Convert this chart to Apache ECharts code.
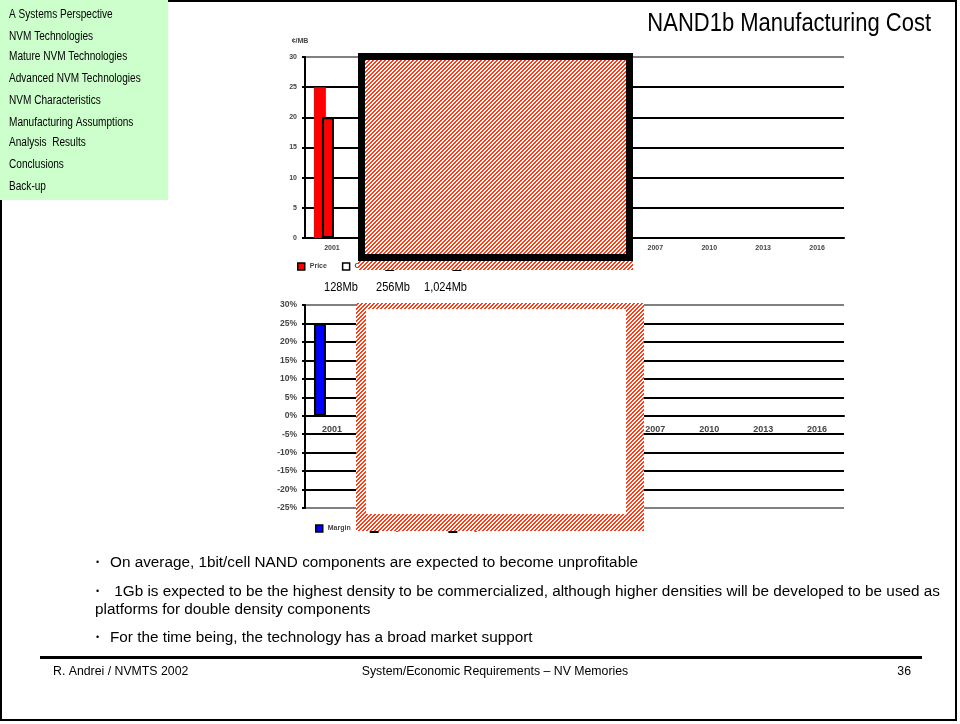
<!DOCTYPE html>
<html>
<head>
<meta charset="utf-8">
<script src="https://cdn.jsdelivr.net/npm/echarts@6/dist/echarts.min.js"></script>
<style>
  html, body { margin: 0; padding: 0; background: #fff; }
  #slide { width: 960px; height: 724px; }
</style>
</head>
<body>
<div id="slide"></div>
<script>
// ---- chart data ----
const years = ['2001', '2002', '2003', '2004', '2005', '2006', '2007', '2010', '2013', '2016'];
// cents per MB
const price = [25, null, null, null, null, null, null, null, null, null];
const cost = [20, null, null, null, null, null, null, null, null, null];
const cost256 = [null, null, null, null, null, null, null, null, null, null];
const cost1024 = [null, null, null, null, null, null, null, null, null, null];
// margin on cost, percent
const margin = [25, null, null, null, null, null, null, null, null, null];
const margin256 = [null, null, null, null, null, null, null, null, null, null];
const margin1024 = [null, null, null, null, null, null, null, null, null, null];
const costTicks = [0, 5, 10, 15, 20, 25, 30];
const marginTicks = [-25, -20, -15, -10, -5, 0, 5, 10, 15, 20, 25, 30];
const densities = ['128Mb', '256Mb', '1,024Mb'];

// ---- slide text ----
const navItems = ['A Systems Perspective', 'NVM Technologies', 'Mature NVM Technologies',
  'Advanced NVM Technologies', 'NVM Characteristics', 'Manufacturing Assumptions',
  'Analysis  Results', 'Conclusions', 'Back-up'];
const title = 'NAND1b Manufacturing Cost';
const bullets = [
  'On average, 1bit/cell NAND components are expected to become unprofitable',
  ' 1Gb is expected to be the highest density to be commercialized, although higher densities will be developed to be used as',
  'For the time being, the technology has a broad market support'
];
const bulletWrap = 'platforms for double density components';
const footer = ['R. Andrei / NVMTS 2002', 'System/Economic Requirements \u2013 NV Memories', '36'];

const SANS = "'Liberation Sans',Arial,sans-serif";

// diagonal red/white hatch tile
function hatchTile() {
  const n = 4;
  const c = document.createElement('canvas');
  c.width = n; c.height = n;
  const g = c.getContext('2d');
  const img = g.createImageData(n, n);
  for (let y = 0; y < n; y++) {
    for (let x = 0; x < n; x++) {
      const i = (y * n + x) * 4;
      const red = ((x + y) % n) < 2;
      img.data[i] = 255;
      img.data[i + 1] = red ? 60 : 255;
      img.data[i + 2] = red ? 20 : 255;
      img.data[i + 3] = 255;
    }
  }
  g.putImageData(img, 0, 0);
  return c;
}
const hatch = { image: hatchTile(), repeat: 'repeat' };

// text element; sx condenses the glyphs horizontally around the anchor
function txt(x, y, text, size, opts) {
  opts = opts || {};
  return {
    type: 'text', x: x, y: y, z: 120, scaleX: opts.sx || 1,
    style: {
      text: text, fontSize: size, fontFamily: SANS,
      fill: opts.color || '#000',
      align: opts.align || 'left', textAlign: opts.align || 'left',
      verticalAlign: 'middle', textVerticalAlign: 'middle'
    }
  };
}

const graphics = [];
// slide frame
graphics.push({ type: 'rect', z: 90, shape: { x: 1, y: 1, width: 955, height: 719 },
  style: { fill: 'none', stroke: '#000', lineWidth: 2 } });
// navigation panel
graphics.push({ type: 'rect', z: 95, shape: { x: 0, y: 0, width: 168, height: 200 },
  style: { fill: '#ccffcc' } });
const navY = [15, 37, 57, 79, 101, 123, 143, 165, 187];
navItems.forEach((t, i) => graphics.push(txt(9, navY[i], t, 12, { sx: 0.84 })));
// title
graphics.push(txt(931, 24, title, 25, { align: 'right', sx: 0.88 }));
// density captions
const densX = [324, 376, 424];
densities.forEach((t, i) => graphics.push(txt(densX[i], 287, t, 13, { sx: 0.85 })));
// covering panels over the charts
graphics.push({ type: 'rect', z: 100, shape: { x: 358, y: 53, width: 275, height: 217 },
  style: { fill: hatch } });
graphics.push({ type: 'rect', z: 101, shape: { x: 361.5, y: 56.5, width: 268, height: 201 },
  style: { fill: 'none', stroke: '#000', lineWidth: 7 } });
graphics.push({ type: 'rect', z: 100, shape: { x: 356, y: 303, width: 288, height: 228 },
  style: { fill: hatch } });
graphics.push({ type: 'rect', z: 101, shape: { x: 366, y: 309, width: 260, height: 205 },
  style: { fill: '#fff' } });
// bullet points
const bulletY = [563, 592, 638];
bullets.forEach((t, i) => {
  graphics.push(txt(96, bulletY[i], '\u2022', 9));
  graphics.push(txt(110, bulletY[i], t, 15.3));
});
graphics.push(txt(95, 610, bulletWrap, 15.3));
// footer
graphics.push({ type: 'rect', z: 110, shape: { x: 40, y: 656, width: 882, height: 3 },
  style: { fill: '#000' } });
graphics.push(txt(53, 672, footer[0], 12.3));
graphics.push(txt(495, 672, footer[1], 12.3, { align: 'center' }));
graphics.push(txt(911, 672, footer[2], 12.3, { align: 'right' }));

const tickFont = { color: '#444', fontWeight: 'bold', fontFamily: SANS };

// zero line of the margin chart, measured up from the grid bottom
const marginGridH = 508 - 305;
const zeroLift = marginGridH * (0 - marginTicks[0]) / (marginTicks[marginTicks.length - 1] - marginTicks[0]);

const option = {
  animation: false,
  backgroundColor: '#fff',
  graphic: { elements: graphics },
  legend: [
    {
      left: 297, top: 262, padding: 0, icon: 'rect', itemWidth: 7, itemHeight: 7, itemGap: 15,
      textStyle: Object.assign({ fontSize: 7 }, tickFont),
      data: [
        { name: 'Price', itemStyle: { color: '#ff0000', borderColor: '#000', borderWidth: 1.5 } },
        { name: 'Cost', itemStyle: { color: '#fff', borderColor: '#000', borderWidth: 1.5 } },
        { name: 'Cost 256Mb' }, { name: 'Cost 1,024Mb' }
      ]
    },
    {
      left: 315, top: 524, padding: 0, icon: 'rect', itemWidth: 7, itemHeight: 7, itemGap: 19,
      textStyle: Object.assign({ fontSize: 7 }, tickFont),
      data: [
        { name: 'Margin', itemStyle: { color: '#0000ff', borderColor: '#000', borderWidth: 1.5 } },
        { name: 'Margin 256Mb' }, { name: 'Margin 1,024Mb' }
      ]
    }
  ],
  grid: [
    { left: 305, right: 116, top: 57, bottom: 486 },
    { left: 305, right: 116, top: 305, bottom: 216 }
  ],
  xAxis: [
    {
      type: 'category', gridIndex: 0, data: years,
      axisLine: { lineStyle: { color: '#000', width: 2 } },
      axisTick: { length: 3, lineStyle: { color: '#000', width: 2 } },
      axisLabel: Object.assign({ fontSize: 7, margin: 7, interval: 0 }, tickFont)
    },
    {
      type: 'category', gridIndex: 1, data: years, position: 'bottom', offset: -zeroLift,
      axisLine: { onZero: false, lineStyle: { color: '#000', width: 2 } },
      axisTick: { length: 3, lineStyle: { color: '#000', width: 2 } },
      axisLabel: Object.assign({ fontSize: 9, margin: 9, interval: 0 }, tickFont)
    }
  ],
  yAxis: [
    {
      type: 'value', gridIndex: 0, min: costTicks[0], max: costTicks[costTicks.length - 1], interval: 5,
      name: '\u00a2/MB', nameLocation: 'end', nameGap: 12,
      nameTextStyle: Object.assign({ fontSize: 7, padding: [0, 10, 0, 0] }, tickFont),
      axisLine: { show: true, lineStyle: { color: '#000', width: 2 } },
      axisTick: { show: true, length: 3, lineStyle: { color: '#000', width: 2 } },
      axisLabel: Object.assign({ fontSize: 7, margin: 8 }, tickFont),
      splitLine: { lineStyle: { width: 2, color: ['#000', '#000', '#000', '#000', '#000', '#000', '#808080'] } }
    },
    {
      type: 'value', gridIndex: 1, min: marginTicks[0], max: marginTicks[marginTicks.length - 1], interval: 5,
      axisLine: { show: true, lineStyle: { color: '#000', width: 2 } },
      axisTick: { show: true, length: 3, lineStyle: { color: '#000', width: 2 } },
      axisLabel: Object.assign({ fontSize: 8.5, margin: 8, formatter: '{value}%' }, tickFont),
      splitLine: { lineStyle: { width: 2, color: ['#808080', '#000', '#000', '#000', '#000', '#000',
        '#000', '#000', '#000', '#000', '#000', '#808080'] } }
    }
  ],
  series: [
    { name: 'Price', type: 'bar', xAxisIndex: 0, yAxisIndex: 0, data: price,
      barWidth: 12, barGap: '-33%', itemStyle: { color: '#ff0000' } },
    { name: 'Cost', type: 'bar', xAxisIndex: 0, yAxisIndex: 0, data: cost,
      barWidth: 12, barGap: '-33%', itemStyle: { color: '#ff0000', borderColor: '#000', borderWidth: 2 } },
    { name: 'Cost 256Mb', type: 'bar', xAxisIndex: 0, yAxisIndex: 0, data: cost256,
      barWidth: 12, barGap: '-33%', itemStyle: { color: '#fff', borderColor: '#000', borderWidth: 2 } },
    { name: 'Cost 1,024Mb', type: 'bar', xAxisIndex: 0, yAxisIndex: 0, data: cost1024,
      barWidth: 12, barGap: '-33%', itemStyle: { color: '#fff', borderColor: '#000', borderWidth: 2 } },
    { name: 'Margin', type: 'bar', xAxisIndex: 1, yAxisIndex: 1, data: margin,
      barWidth: 12, barGap: 0, itemStyle: { color: '#0000ff', borderColor: '#000', borderWidth: 2 } },
    { name: 'Margin 256Mb', type: 'bar', xAxisIndex: 1, yAxisIndex: 1, data: margin256,
      barWidth: 12, barGap: 0, itemStyle: { color: '#fff', borderColor: '#000', borderWidth: 2 } },
    { name: 'Margin 1,024Mb', type: 'bar', xAxisIndex: 1, yAxisIndex: 1, data: margin1024,
      barWidth: 12, barGap: 0, itemStyle: { color: '#fff', borderColor: '#000', borderWidth: 2 } }
  ]
};

const chart = echarts.init(document.getElementById('slide'), null, { renderer: 'canvas' });
chart.setOption(option);
</script>
</body>
</html>
